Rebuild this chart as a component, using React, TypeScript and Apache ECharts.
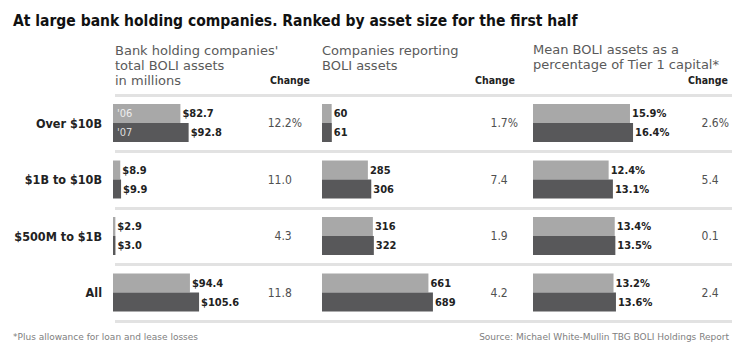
import React, { useEffect, useRef } from 'react';
import * as echarts from 'echarts';

const titleText = 'At large bank holding companies. Ranked by asset size for the first half';
const rowLabels = ['Over $10B', '$1B to $10B', '$500M to $1B', 'All'];
const yearTags = ["'06", "'07"];
const boli06 = [82.7, 8.9, 2.9, 94.4];
const boli07 = [92.8, 9.9, 3.0, 105.6];
const boliChange = ['12.2%', '11.0', '4.3', '11.8'];
const companies06 = [60, 285, 316, 661];
const companies07 = [61, 306, 322, 689];
const companiesChange = ['1.7%', '7.4', '1.9', '4.2'];
const tier06 = [15.9, 12.4, 13.4, 13.2];
const tier07 = [16.4, 13.1, 13.5, 13.6];
const tierChange = ['2.6%', '5.4', '0.1', '2.4'];
const header1 = ["Bank holding companies'", 'total BOLI assets', 'in millions'];
const header2 = ['Companies reporting', 'BOLI assets'];
const header3 = ['Mean BOLI assets as a', 'percentage of Tier 1 capital*'];
const changeHeader = 'Change';
const footnote = '*Plus allowance for loan and lease losses';
const sourceText = 'Source: Michael White-Mullin TBG BOLI Holdings Report';

const COND = '"DejaVu Sans Condensed", "DejaVu Sans", sans-serif';
const WIDE = '"DejaVu Sans", sans-serif';
const LIGHT = '#a8a8a8';
const DARK = '#58585a';
const TOP = 94.75;
const HEIGHT = 226;

// Numbers without "%" get an invisible "%" so that decimals line up.
function changeFormatter(v: string) {
  return v.endsWith('%') ? `{n|${v}}` : `{n|${v}}{s|%}`;
}
const changeRich = {
  n: { fontFamily: COND, fontSize: 12, color: '#505050' },
  s: { fontFamily: COND, fontSize: 12, color: 'rgba(0,0,0,0)' },
};

function valueLabel(fmt: (v: number) => string) {
  return {
    show: true,
    position: 'right',
    distance: 2,
    fontFamily: COND,
    fontWeight: 'bold',
    fontSize: 11,
    color: '#222',
    formatter: (p: any) => fmt(p.value),
  };
}

function barPair(xi: number, yi: number, d06: number[], d07: number[], fmt: (v: number) => string) {
  return [
    {
      type: 'bar', name: yearTags[0], xAxisIndex: xi, yAxisIndex: yi, data: d06,
      barWidth: 19, barGap: '0%', itemStyle: { color: LIGHT }, label: valueLabel(fmt),
    },
    {
      type: 'bar', name: yearTags[1], xAxisIndex: xi, yAxisIndex: yi, data: d07,
      barWidth: 19, barGap: '0%', itemStyle: { color: DARK }, label: valueLabel(fmt),
    },
  ];
}

function tagSeries(values: number[], tag: string, color: string) {
  return {
    type: 'bar', xAxisIndex: 0, yAxisIndex: 1, barWidth: 19, barGap: '0%', silent: true, z: 5,
    itemStyle: { color: 'rgba(0,0,0,0)' },
    label: { show: false },
    data: values.map((v, i) =>
      i === 0
        ? { value: v, label: { show: true, position: 'insideLeft', distance: 4, formatter: tag, color, fontFamily: COND, fontSize: 11 } }
        : v
    ),
  };
}

function changeAxis(grid: number, data: string[], margin: number) {
  return {
    type: 'category', gridIndex: grid, data, inverse: true, position: 'right',
    axisLine: { show: false }, axisTick: { show: false }, splitLine: { show: false },
    axisLabel: { align: 'right', margin, formatter: changeFormatter, rich: changeRich },
  };
}

function txt(text: string, x: number, y: number, font: string, fill: string, align = 'left') {
  return { type: 'text', x, y, silent: true, style: { text, font, fill, textAlign: align, textVerticalAlign: 'middle' } };
}

export default function App() {
  const ref = useRef<HTMLDivElement>(null);
  useEffect(() => {
    if (!ref.current) return;
    const chart = echarts.init(ref.current, null, { renderer: 'svg' });
    const hdrFont = `13px ${WIDE}`;
    const chFont = `bold 10.5px ${COND}`;
    const graphics: any[] = [
      txt(titleText, 13, 21, `bold 15.5px ${COND}`, '#111'),
      ...header1.map((t, i) => txt(t, 115, 50 + i * 15, hdrFont, '#5a5a5a')),
      ...header2.map((t, i) => txt(t, 322, 50 + i * 15, hdrFont, '#5a5a5a')),
      ...header3.map((t, i) => txt(t, 533, 49 + i * 15, hdrFont, '#5a5a5a')),
      txt(changeHeader, 310, 80, chFont, '#222', 'right'),
      txt(changeHeader, 515, 80, chFont, '#222', 'right'),
      txt(changeHeader, 728, 80, chFont, '#222', 'right'),
      txt(footnote, 13, 337, `9px ${WIDE}`, '#808080'),
      txt(sourceText, 729, 337, `9px ${WIDE}`, '#808080', 'right'),
    ];
    chart.setOption({
      animation: false,
      backgroundColor: '#fff',
      grid: [
        { left: 113, top: TOP, width: 163, height: HEIGHT },
        { left: 322, top: TOP, width: 161, height: HEIGHT },
        { left: 533, top: TOP, width: 122, height: HEIGHT },
        { left: 115, top: TOP, width: 617, height: HEIGHT },
      ],
      xAxis: [
        { type: 'value', gridIndex: 0, min: 0, max: 200, show: false },
        { type: 'value', gridIndex: 1, min: 0, max: 1000, show: false },
        { type: 'value', gridIndex: 2, min: 0, max: 20, show: false },
        { type: 'value', gridIndex: 3, min: 0, max: 1, show: false },
      ],
      yAxis: [
        {
          type: 'category', gridIndex: 0, data: rowLabels, inverse: true, position: 'left',
          axisLine: { show: false }, axisTick: { show: false }, splitLine: { show: false },
          axisLabel: { margin: 11, fontFamily: COND, fontWeight: 'bold', fontSize: 12.5, color: '#222' },
        },
        changeAxis(0, boliChange, 26),
        changeAxis(1, companiesChange, 35),
        changeAxis(2, tierChange, 74),
        {
          type: 'category', gridIndex: 3, data: rowLabels, inverse: true,
          axisLine: { show: false }, axisTick: { show: false }, axisLabel: { show: false },
          splitLine: { show: true, lineStyle: { color: '#e2e2e2', width: 3 } },
        },
      ],
      series: [
        ...barPair(0, 0, boli06, boli07, (v) => '$' + v.toFixed(1)),
        tagSeries(boli06, yearTags[0], '#eeeeee'),
        tagSeries(boli07, yearTags[1], '#dddddd'),
        ...barPair(1, 2, companies06, companies07, (v) => String(v)),
        ...barPair(2, 3, tier06, tier07, (v) => v.toFixed(1) + '%'),
      ],
      graphic: graphics,
    });
    return () => chart.dispose();
  }, []);
  return <div ref={ref} style={{ position: 'fixed', left: 0, top: 0, width: 740, height: 351, background: '#fff' }} />;
}
